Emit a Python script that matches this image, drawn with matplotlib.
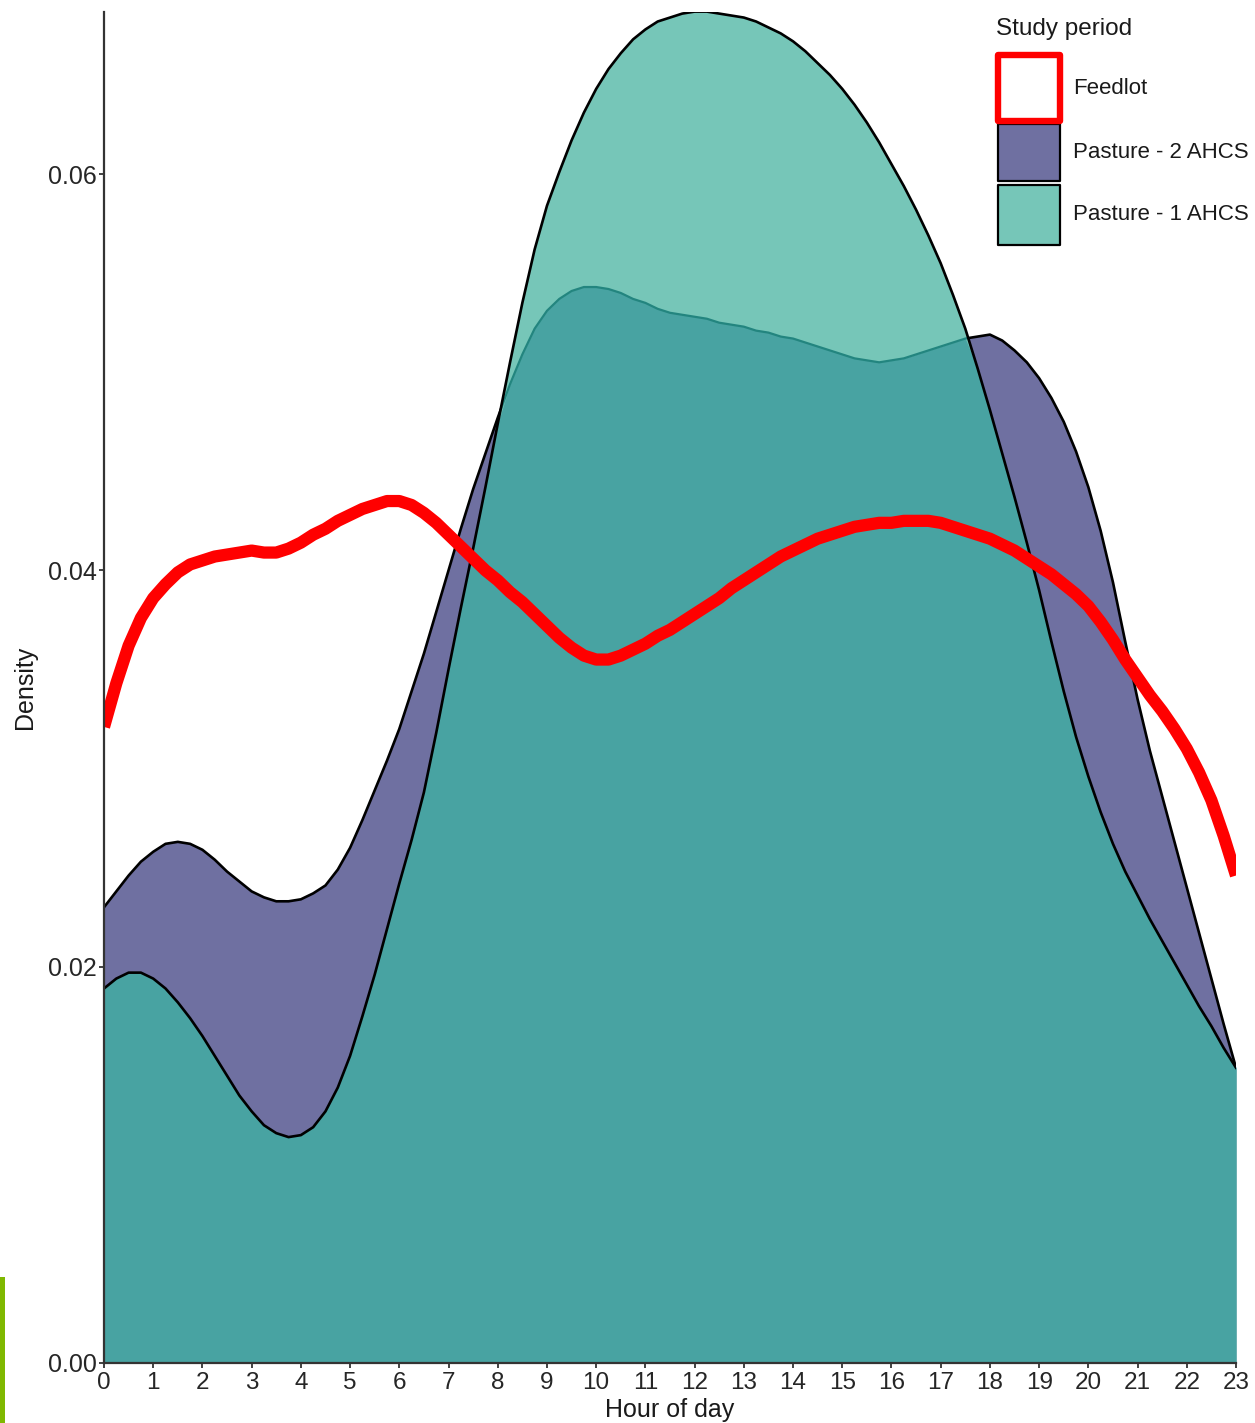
import numpy as np
import matplotlib
matplotlib.use("Agg")
import matplotlib.pyplot as plt
from matplotlib.patches import Rectangle

plt.rcParams['font.family'] = ['Liberation Sans', 'DejaVu Sans']

hours = np.arange(0, 23.001, 0.25)

feedlot = [0.0321, 0.0343, 0.0362, 0.0376, 0.0386, 0.0393, 0.0399, 0.0403,
           0.0405, 0.0407, 0.0408, 0.0409, 0.0410, 0.0409, 0.0409, 0.0411,
           0.0414, 0.0418, 0.0421, 0.0425, 0.0428, 0.0431, 0.0433, 0.0435,
           0.0435, 0.0433, 0.0429, 0.0424, 0.0418, 0.0412, 0.0406, 0.0400,
           0.0395, 0.0389, 0.0384, 0.0378, 0.0372, 0.0366, 0.0361, 0.0357,
           0.0355, 0.0355, 0.0357, 0.0360, 0.0363, 0.0367, 0.0370, 0.0374,
           0.0378, 0.0382, 0.0386, 0.0391, 0.0395, 0.0399, 0.0403, 0.0407,
           0.0410, 0.0413, 0.0416, 0.0418, 0.0420, 0.0422, 0.0423, 0.0424,
           0.0424, 0.0425, 0.0425, 0.0425, 0.0424, 0.0422, 0.0420, 0.0418,
           0.0416, 0.0413, 0.0410, 0.0406, 0.0402, 0.0398, 0.0393, 0.0388,
           0.0382, 0.0374, 0.0365, 0.0355, 0.0346, 0.0337, 0.0329, 0.0320,
           0.0310, 0.0298, 0.0284, 0.0266, 0.0246]

pasture2 = [0.0230, 0.0238, 0.0246, 0.0253, 0.0258, 0.0262, 0.0263, 0.0262,
            0.0259, 0.0254, 0.0248, 0.0243, 0.0238, 0.0235, 0.0233, 0.0233,
            0.0234, 0.0237, 0.0241, 0.0249, 0.0260, 0.0274, 0.0289, 0.0304,
            0.0320, 0.0339, 0.0358, 0.0379, 0.0400, 0.0421, 0.0441, 0.0459,
            0.0477, 0.0494, 0.0509, 0.0522, 0.0531, 0.0537, 0.0541, 0.0543,
            0.0543, 0.0542, 0.0540, 0.0537, 0.0535, 0.0532, 0.0530, 0.0529,
            0.0528, 0.0527, 0.0525, 0.0524, 0.0523, 0.0521, 0.0520, 0.0518,
            0.0517, 0.0515, 0.0513, 0.0511, 0.0509, 0.0507, 0.0506, 0.0505,
            0.0506, 0.0507, 0.0509, 0.0511, 0.0513, 0.0515, 0.0517, 0.0518,
            0.0519, 0.0516, 0.0511, 0.0505, 0.0497, 0.0487, 0.0475, 0.0460,
            0.0442, 0.0420, 0.0394, 0.0364, 0.0335, 0.0309, 0.0286, 0.0263,
            0.0240, 0.0217, 0.0194, 0.0171, 0.0149]

pasture1 = [0.0189, 0.0194, 0.0197, 0.0197, 0.0194, 0.0189, 0.0182, 0.0174,
            0.0165, 0.0155, 0.0145, 0.0135, 0.0127, 0.0120, 0.0116, 0.0114,
            0.0115, 0.0119, 0.0127, 0.0139, 0.0155, 0.0175, 0.0196, 0.0219,
            0.0242, 0.0264, 0.0288, 0.0318, 0.0350, 0.0381, 0.0411, 0.0442,
            0.0474, 0.0505, 0.0535, 0.0562, 0.0584, 0.0601, 0.0617, 0.0631,
            0.0643, 0.0653, 0.0661, 0.0668, 0.0673, 0.0677, 0.0679, 0.0681,
            0.0682, 0.0682, 0.0681, 0.0680, 0.0679, 0.0677, 0.0674, 0.0671,
            0.0667, 0.0662, 0.0656, 0.0650, 0.0643, 0.0635, 0.0626, 0.0616,
            0.0605, 0.0594, 0.0582, 0.0569, 0.0555, 0.0539, 0.0522, 0.0502,
            0.0481, 0.0459, 0.0437, 0.0414, 0.0390, 0.0364, 0.0339, 0.0316,
            0.0296, 0.0278, 0.0262, 0.0248, 0.0236, 0.0224, 0.0213, 0.0202,
            0.0191, 0.0180, 0.0170, 0.0159, 0.0149]

labels = ["Feedlot", "Pasture - 2 AHCS", "Pasture - 1 AHCS"]
legend_title = "Study period"
xticks = list(range(0, 24))
yticks = [0.00, 0.02, 0.04, 0.06]
ytick_labels = ["0.00", "0.02", "0.04", "0.06"]

c_purple = "#6f70a1"
c_teal_light = "#76c6b8"
c_teal_dark = "#48a3a2"
c_teal_line = "#23857f"
c_red = "#ff0000"

p1 = np.array(pasture1)
p2 = np.array(pasture2)
fl = np.array(feedlot)

W, H = 1255, 1423
fig = plt.figure(figsize=(W / 100, H / 100), dpi=100)
ax = fig.add_axes([104 / W, 60 / H, 1132 / W, 1351 / H])

# Pasture - 2 AHCS (opaque purple with black outline)
ax.fill_between(hours, 0, p2, color=c_purple, lw=0, zorder=1)
ax.plot(hours, p2, color="black", lw=1.9, zorder=2)
# Pasture - 1 AHCS drawn on top (semi-transparent look rendered explicitly)
teal_fill = ax.fill_between(hours, 0, p1, color=c_teal_light, lw=0, zorder=3)
ax.fill_between(hours, 0, np.minimum(p1, p2), color=c_teal_dark, lw=0, zorder=4)
under_line, = ax.plot(hours, p2, color=c_teal_line, lw=1.6, zorder=5)
under_line.set_clip_path(teal_fill.get_paths()[0], ax.transData)
ax.plot(hours, p1, color="black", lw=1.9, zorder=6)
# Feedlot
ax.plot(hours, fl, color=c_red, lw=8.8, solid_capstyle='butt',
        solid_joinstyle='round', zorder=7)

ax.set_xlim(0, 23)
ax.set_ylim(0, 0.06818)
ax.set_xticks(xticks)
ax.set_xticklabels([str(x) for x in xticks])
ax.set_yticks(yticks)
ax.set_yticklabels(ytick_labels)
for s in ["top", "right"]:
    ax.spines[s].set_visible(False)
for s in ["left", "bottom"]:
    ax.spines[s].set_color("#333333")
    ax.spines[s].set_linewidth(1.6)
    ax.spines[s].set_zorder(8)
ax.tick_params(axis="both", length=3.6, width=1.3, color="#333333",
               labelcolor="#262626")
ax.tick_params(axis="y", labelsize=18, pad=1.5)
ax.tick_params(axis="x", labelsize=17.5, pad=3)
ax.set_xlabel("Hour of day", fontsize=18, color="#1a1a1a", labelpad=3)
ax.set_ylabel("Density", fontsize=18, color="#1a1a1a", labelpad=8)

def fx(px):
    return px / W

def fy(py):
    return 1 - py / H

fig.text(fx(996), fy(29), legend_title, fontsize=17.5, color="#1a1a1a",
         ha="left", va="center")
key_fc = ["white", c_purple, c_teal_light]
key_ec = [c_red, "black", "black"]
key_lw = [4.6, 1.6, 1.6]
key_top = [55, 124, 185]
key_bot = [121, 181, 245]
for i in [2, 1, 0]:
    fig.add_artist(Rectangle((fx(998), fy(key_bot[i])), fx(1060) - fx(998),
                             fy(key_top[i]) - fy(key_bot[i]),
                             transform=fig.transFigure, facecolor=key_fc[i],
                             edgecolor=key_ec[i], lw=key_lw[i],
                             joinstyle="round"))
for i, lab in enumerate(labels):
    fig.text(fx(1073), fy((key_top[i] + key_bot[i]) / 2), lab, fontsize=16,
             color="#1a1a1a", ha="left", va="center")

fig.add_artist(Rectangle((0, 0), 5 / W, 146 / H, transform=fig.transFigure,
                         facecolor="#7fb800", edgecolor="none"))

fig.savefig("out.png", dpi=100)
